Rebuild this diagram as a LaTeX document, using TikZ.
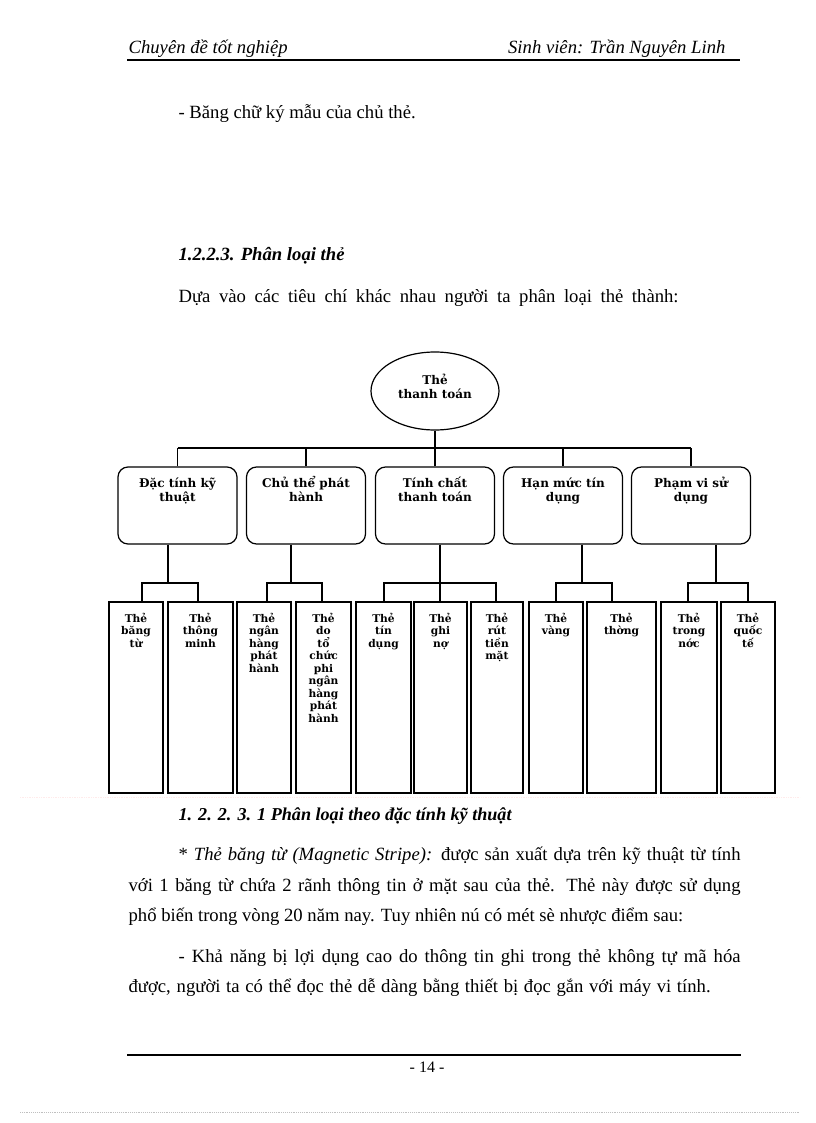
\documentclass[tikz,border=0pt]{standalone}
\usepackage{fontspec}
\setmainfont{Liberation Serif}
\newfontfamily\dfont{DejaVu Serif}
\usetikzlibrary{shapes.geometric}
\tikzset{
  catbox/.style={draw, rounded corners=7.5pt, minimum width=89.25pt, minimum height=57.75pt, inner sep=0pt},
  leafbox/.style={draw, minimum height=143.25pt, inner sep=0pt},
  rootnode/.style={draw, ellipse, minimum width=96pt, minimum height=58.5pt, inner sep=0pt},
  catlbl/.style={font=\dfont\bfseries\fontsize{9}{10.5}\selectfont, align=center, anchor=north, inner sep=0pt},
  leaflbl/.style={font=\dfont\bfseries\fontsize{8}{9.4}\selectfont, align=center, anchor=north, inner sep=0pt},
  body/.style={font=\fontsize{14}{16}\selectfont, anchor=base west, inner sep=0pt},
  headf/.style={font=\bfseries\itshape\fontsize{14}{16}\selectfont},
  conn/.style={line width=0.9pt},
}
\newcommand\leafnode[4]{%
  \node[leafbox, minimum width=#3*0.75pt] (#1) at (#2,697.5) {};
  \node[leaflbl] (#1t) at ([yshift=-6pt]#1.north) {\rule{0pt}{9pt}#4};}
\newcommand\catnode[3]{%
  \node[catbox] (#1) at (#2,505.5) {};
  \node[catlbl] (#1t) at ([yshift=-5.4pt]#1.north) {\rule{0pt}{10pt}#3};}
\begin{document}
\begin{tikzpicture}[x=0.75pt,y=-0.75pt, line width=0.9pt]
\useasboundingbox (0,0) rectangle (816,1123);
\fill[white] (0,0) rectangle (816,1123);

% header
\node[body, font=\itshape\fontsize{14}{16}\selectfont] (hl) at (128,54) {Chuyên đề tốt nghiệp};
\node[body, font=\itshape\fontsize{14}{16}\selectfont, anchor=base east] (hr) at (726,54) {Sinh viên: Trần Nguyên Linh};
\draw[line width=0.8pt] (127,60) -- (740,60);

\node[body] (t1) at (178,119) {- Băng chữ ký mẫu của chủ thẻ.};
\node[body, headf] (h1) at (178,260) {1.2.2.3. Phân loại thẻ};
\node[body] (t2) at (178,302) {\makebox[375pt][s]{Dựa vào các tiêu chí khác nhau người ta phân loại thẻ thành:}};

% diagram
\node[rootnode] (root) at (435,391) {};
\node[catlbl, anchor=center] (roott) at (435,386) {Thẻ\\thanh toán};

\catnode{b1}{177.5}{Đặc tính kỹ\\thuật}
\catnode{b2}{306}{Chủ thể phát\\hành}
\catnode{b3}{435}{Tính chất\\thanh toán}
\catnode{b4}{563}{Hạn mức tín\\dụng}
\catnode{b5}{691}{Phạm vi sử\\dụng}

\leafnode{l1}{136}{54}{Thẻ\\băng\\từ}
\leafnode{l2}{200.5}{65}{Thẻ\\thông\\minh}
\leafnode{l3}{264}{54}{Thẻ\\ngân\\hàng\\phát\\hành}
\leafnode{l4}{323.5}{55}{Thẻ\\do\\tổ\\chức\\phi\\ngân\\hàng\\phát\\hành}
\leafnode{l5}{383.5}{55}{Thẻ\\tín\\dụng}
\leafnode{l6}{440.5}{53}{Thẻ\\ghi\\nợ}
\leafnode{l7}{497}{52}{Thẻ\\rút\\tiền\\mặt}
\leafnode{l8}{556}{54}{Thẻ\\vàng}
\leafnode{l9}{621.5}{69}{Thẻ\\thờng}
\leafnode{l10}{689}{56}{Thẻ\\trong\\nớc}
\leafnode{l11}{748}{54}{Thẻ\\quốc\\tế}

% top bus
\coordinate (bus) at (0,448);
\draw[conn] (root.south) -- (root.south |- bus);
\draw[conn] (b1.north |- bus) -- (b5.north |- bus);
\foreach \b in {b1,b2,b3,b4,b5} {\draw[conn] (\b.north) -- (\b.north |- bus);}

% sub buses
\coordinate (s1) at (168,583); \coordinate (j1a) at (142,583); \coordinate (j1b) at (198,583);
\draw[conn] (s1 |- b1.south) -- (s1);
\draw[conn] (j1a |- l1.north) -- (j1a) -- (j1b) -- (j1b |- l2.north);

\coordinate (s2) at (291,583); \coordinate (j2a) at (267,583); \coordinate (j2b) at (322,583);
\draw[conn] (s2 |- b2.south) -- (s2);
\draw[conn] (j2a |- l3.north) -- (j2a) -- (j2b) -- (j2b |- l4.north);

\coordinate (s3) at (440,583); \coordinate (j3a) at (384,583); \coordinate (j3b) at (496,583);
\draw[conn] (s3 |- b3.south) -- (s3 |- l6.north);
\draw[conn] (j3a |- l5.north) -- (j3a) -- (j3b) -- (j3b |- l7.north);

\coordinate (s4) at (582,583); \coordinate (j4a) at (556,583); \coordinate (j4b) at (612,583);
\draw[conn] (s4 |- b4.south) -- (s4);
\draw[conn] (j4a |- l8.north) -- (j4a) -- (j4b) -- (j4b |- l9.north);

\coordinate (s5) at (716,583); \coordinate (j5a) at (688,583); \coordinate (j5b) at (748,583);
\draw[conn] (s5 |- b5.south) -- (s5);
\draw[conn] (j5a |- l10.north) -- (j5a) -- (j5b) -- (j5b |- l11.north);

% text below
\draw[densely dotted, line width=0.3pt, red!8] (20,797) -- (800,797);
\node[body, font=\bfseries\itshape\fontsize{13.6}{16}\selectfont] (h2) at (178,820) {1. 2. 2. 3. 1 Phân loại theo đặc tính kỹ thuật};
\node[body] (p1) at (178,860) {\makebox[421.5pt][s]{* \textit{Thẻ băng từ (Magnetic Stripe):} được sản xuất dựa trên kỹ thuật từ tính}};
\node[body] (p2) at (128,891) {\makebox[459pt][s]{với 1 băng từ chứa 2 rãnh thông tin ở mặt sau của thẻ. Thẻ này được sử dụng}};
\node[body] (p3) at (128,921) {phổ biến trong vòng 20 năm nay. Tuy nhiên nú có mét sè nhược điểm sau:};
\node[body] (p4) at (178,962) {\makebox[421.5pt][s]{- Khả năng bị lợi dụng cao do thông tin ghi trong thẻ không tự mã hóa}};
\node[body] (p5) at (128,992) {\makebox[436.5pt][s]{được, người ta có thể đọc thẻ dễ dàng bằng thiết bị đọc gắn với máy vi tính.}};

% footer
\draw[line width=1pt] (127,1055) -- (741,1055);
\node[font=\fontsize{12}{14}\selectfont, inner sep=0pt] (pg) at (427,1067) {- 14 -};
\draw[densely dotted, line width=0.4pt, black!25] (20,1112) -- (800,1112);
\end{tikzpicture}
\end{document}
